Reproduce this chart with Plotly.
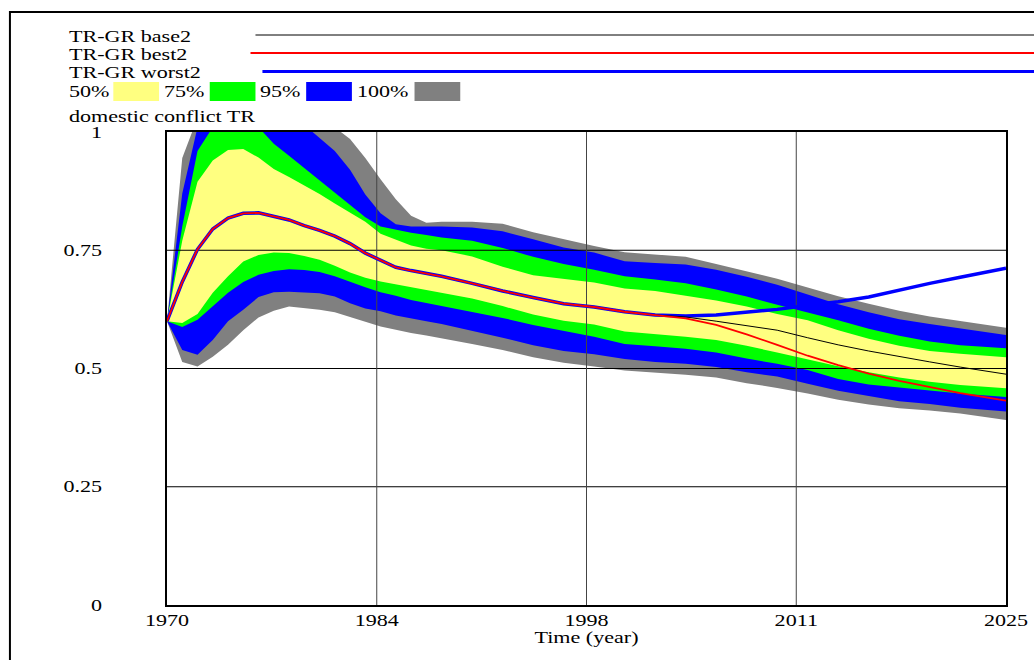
import plotly.graph_objects as go

# ---------------- data ----------------
years = [1970, 1971, 1972, 1973, 1974, 1975, 1976, 1977, 1978, 1979, 1980, 1981, 1982,
         1983, 1984, 1985, 1986, 1987, 1988, 1990, 1992, 1994, 1996, 1998, 2000, 2002,
         2004, 2006, 2008, 2010, 2012, 2014, 2016, 2018, 2020, 2022, 2025]

p100_hi = [0.600, 0.945, 1.030, 1.080, 1.100, 1.110, 1.110, 1.100, 1.080, 1.060, 1.040, 1.010, 0.985,
           0.945, 0.900, 0.858, 0.823, 0.808, 0.810, 0.810, 0.806, 0.788, 0.773, 0.759, 0.746, 0.741,
           0.736, 0.721, 0.705, 0.690, 0.671, 0.653, 0.637, 0.622, 0.610, 0.601, 0.586]
p95_hi = [0.600, 0.870, 1.010, 1.060, 1.080, 1.080, 1.080, 1.070, 1.050, 1.015, 0.988, 0.960, 0.920,
          0.868, 0.828, 0.805, 0.800, 0.800, 0.800, 0.798, 0.790, 0.773, 0.756, 0.745, 0.727, 0.723,
          0.720, 0.709, 0.694, 0.677, 0.656, 0.636, 0.619, 0.604, 0.594, 0.585, 0.571]
p75_hi = [0.600, 0.800, 0.960, 1.010, 1.030, 1.030, 1.010, 0.975, 0.950, 0.924, 0.899, 0.872, 0.846,
          0.820, 0.800, 0.793, 0.787, 0.782, 0.777, 0.770, 0.755, 0.736, 0.721, 0.709, 0.695, 0.688,
          0.680, 0.667, 0.652, 0.635, 0.619, 0.602, 0.584, 0.569, 0.557, 0.549, 0.543]
p50_hi = [0.600, 0.770, 0.895, 0.940, 0.962, 0.964, 0.946, 0.922, 0.905, 0.887, 0.869, 0.849, 0.829,
          0.810, 0.785, 0.772, 0.760, 0.753, 0.750, 0.737, 0.715, 0.697, 0.689, 0.682, 0.669, 0.664,
          0.654, 0.644, 0.631, 0.615, 0.602, 0.581, 0.563, 0.548, 0.537, 0.531, 0.524]
p50_lo = [0.600, 0.596, 0.615, 0.660, 0.695, 0.726, 0.740, 0.745, 0.744, 0.738, 0.730, 0.717, 0.703,
          0.692, 0.684, 0.678, 0.672, 0.665, 0.660, 0.648, 0.632, 0.614, 0.601, 0.593, 0.578, 0.573,
          0.567, 0.560, 0.548, 0.534, 0.520, 0.505, 0.492, 0.481, 0.472, 0.465, 0.458]
p75_lo = [0.600, 0.588, 0.603, 0.631, 0.660, 0.683, 0.698, 0.706, 0.710, 0.708, 0.704, 0.695, 0.683,
          0.672, 0.661, 0.654, 0.645, 0.638, 0.632, 0.620, 0.607, 0.592, 0.579, 0.567, 0.552, 0.547,
          0.542, 0.534, 0.521, 0.510, 0.497, 0.478, 0.466, 0.459, 0.453, 0.447, 0.440]
p95_lo = [0.600, 0.539, 0.529, 0.560, 0.600, 0.624, 0.651, 0.661, 0.662, 0.661, 0.659, 0.652, 0.638,
          0.627, 0.621, 0.612, 0.606, 0.600, 0.594, 0.580, 0.565, 0.549, 0.537, 0.530, 0.520, 0.514,
          0.510, 0.503, 0.492, 0.483, 0.468, 0.453, 0.442, 0.431, 0.425, 0.417, 0.409]
p100_lo = [0.600, 0.514, 0.504, 0.525, 0.550, 0.581, 0.608, 0.622, 0.631, 0.628, 0.624, 0.619, 0.609,
           0.599, 0.589, 0.582, 0.575, 0.570, 0.565, 0.552, 0.539, 0.524, 0.512, 0.504, 0.496, 0.492,
           0.487, 0.481, 0.469, 0.459, 0.447, 0.434, 0.424, 0.416, 0.411, 0.405, 0.391]

base2 = [0.600, 0.683, 0.752, 0.795, 0.818, 0.828, 0.829, 0.821, 0.814, 0.802, 0.792, 0.780, 0.764,
         0.744, 0.729, 0.714, 0.707, 0.701, 0.695, 0.680, 0.664, 0.650, 0.637, 0.630, 0.620, 0.613,
         0.609, 0.600, 0.591, 0.581, 0.565, 0.550, 0.537, 0.525, 0.514, 0.503, 0.488]
best2 = [0.600, 0.683, 0.752, 0.795, 0.818, 0.828, 0.829, 0.821, 0.814, 0.802, 0.792, 0.780, 0.764,
         0.744, 0.729, 0.714, 0.707, 0.701, 0.695, 0.680, 0.664, 0.650, 0.637, 0.630, 0.620, 0.613,
         0.606, 0.592, 0.572, 0.550, 0.527, 0.507, 0.489, 0.474, 0.461, 0.448, 0.432]
worst2 = [0.600, 0.683, 0.752, 0.795, 0.818, 0.828, 0.829, 0.821, 0.814, 0.802, 0.792, 0.780, 0.764,
          0.744, 0.729, 0.714, 0.707, 0.701, 0.695, 0.680, 0.664, 0.650, 0.637, 0.630, 0.620, 0.613,
          0.611, 0.613, 0.619, 0.625, 0.633, 0.641, 0.651, 0.666, 0.680, 0.693, 0.712]

x_range = [1970, 2025]
x_tickvals = [1970, 1983.75, 1997.5, 2011.25, 2025]
x_ticktext = ["1970", "1984", "1998", "2011", "2025"]
y_tickvals = [0, 0.25, 0.5, 0.75, 1]
y_ticktext = ["0", "0.25", "0.5", "0.75", "1"]

series_names = ["TR-GR base2", "TR-GR best2", "TR-GR worst2"]
band_labels = ["50%", "75%", "95%", "100%"]
var_name = "domestic conflict TR"

# ---------------- layout geometry ----------------
W, H = 1034, 660
L, R, T, B = 167, 23, 132, 55
PW, PH = W - L - R, H - T - B
FONT = "Liberation Serif"


def px(x):
    return (x - L) / PW


def py(y):
    return (H - B - y) / PH


fig = go.Figure()

bands = [(p100_lo, p100_hi, "#808080"), (p95_lo, p95_hi, "#0000FF"),
         (p75_lo, p75_hi, "#00FF00"), (p50_lo, p50_hi, "#FFFF80")]
for lo, hi, col in bands:
    fig.add_trace(go.Scatter(x=years + years[::-1], y=hi + lo[::-1], fill="toself",
                             fillcolor=col, mode="lines", line=dict(width=0, color=col),
                             hoverinfo="skip", showlegend=False))

# grid lines above the bands
for v in y_tickvals[1:-1]:
    fig.add_trace(go.Scatter(x=x_range, y=[v, v], mode="lines",
                             line=dict(color="black", width=1), hoverinfo="skip", showlegend=False))
for v in x_tickvals[1:-1]:
    fig.add_trace(go.Scatter(x=[v, v], y=[y_tickvals[0], y_tickvals[-1]], mode="lines",
                             line=dict(color="#444444", width=1), hoverinfo="skip", showlegend=False))

fig.add_trace(go.Scatter(x=years, y=worst2, mode="lines", name=series_names[2],
                         line=dict(color="#0000FF", width=3.5), showlegend=False))
fig.add_trace(go.Scatter(x=years, y=base2, mode="lines", name=series_names[0],
                         line=dict(color="black", width=1), showlegend=False))
fig.add_trace(go.Scatter(x=years, y=best2, mode="lines", name=series_names[1],
                         line=dict(color="#FF0000", width=1.8), showlegend=False))

# ---------------- legend (drawn) ----------------
shapes = []
annotations = []
font = dict(family=FONT, size=16, color="black")

# outer frame
shapes.append(dict(type="rect", xref="paper", yref="paper", x0=px(9), y0=py(12), x1=px(1100),
                   y1=py(700), line=dict(color="black", width=2), fillcolor="rgba(0,0,0,0)"))

leg_rows = [(series_names[0], 37, 256, 35, "black", 1),
            (series_names[1], 55, 251, 53, "#FF0000", 2),
            (series_names[2], 73, 263, 71.5, "#0000FF", 3)]
for name, ty, lx, ly, col, lw in leg_rows:
    annotations.append(dict(text=name, xref="paper", yref="paper", x=px(67), y=py(ty),
                            xanchor="left", yanchor="middle", align="left", showarrow=False,
                            font=font, borderpad=0))
    shapes.append(dict(type="line", xref="paper", yref="paper", x0=px(lx), x1=px(1040),
                       y0=py(ly), y1=py(ly), line=dict(color=col, width=lw)))

sw_cols = ["#FFFF80", "#00FF00", "#0000FF", "#808080"]
sw_text_x = [67, 163, 260, 357]
sw_x0 = [113, 210, 307, 416]
for lab, tx, x0, col in zip(band_labels, sw_text_x, sw_x0, sw_cols):
    annotations.append(dict(text=lab, xref="paper", yref="paper", x=px(tx), y=py(92),
                            xanchor="left", yanchor="middle", align="left", showarrow=False,
                            font=font, borderpad=0))
    shapes.append(dict(type="rect", xref="paper", yref="paper", x0=px(x0), x1=px(x0 + 46),
                       y0=py(82), y1=py(101), line=dict(width=0), fillcolor=col))

annotations.append(dict(text=var_name, xref="paper", yref="paper", x=px(67), y=py(116),
                        xanchor="left", yanchor="middle", align="left", showarrow=False,
                        font=font, borderpad=0))

fig.update_layout(
    width=W, height=H, autosize=False,
    margin=dict(l=L, r=R, t=T, b=B, pad=0),
    paper_bgcolor="white", plot_bgcolor="white",
    shapes=shapes, annotations=annotations,
    showlegend=False,
    font=font,
    xaxis=dict(range=x_range, tickvals=x_tickvals, ticktext=x_ticktext, showgrid=False,
               zeroline=False, showline=True, mirror=True, linecolor="black", linewidth=1.5,
               ticks="", tickfont=font, layer="above traces",
               title=dict(text="Time (year)", font=font, standoff=2)),
    yaxis=dict(range=[0, 1], tickvals=y_tickvals, ticktext=y_ticktext, showgrid=False,
               zeroline=False, showline=True, mirror=True, linecolor="black", linewidth=1.5,
               ticks="", tickfont=font, layer="above traces", ticklabelstandoff=60),
)

# The reference text is horizontally wide (stretched serif); widen the rendered SVG text.
post = """
document.body.style.margin='0';
document.body.style.overflow='hidden';
var gd = document.getElementById('{plot_id}');
gd.querySelectorAll('svg text').forEach(function(t){
  var w = t.getComputedTextLength();
  if (w > 0) {
    t.setAttribute('textLength', (w * 1.38).toFixed(2));
    t.setAttribute('lengthAdjust', 'spacingAndGlyphs');
  }
});
"""

fig.write_html("out.html", post_script=post, config={"displayModeBar": False})
